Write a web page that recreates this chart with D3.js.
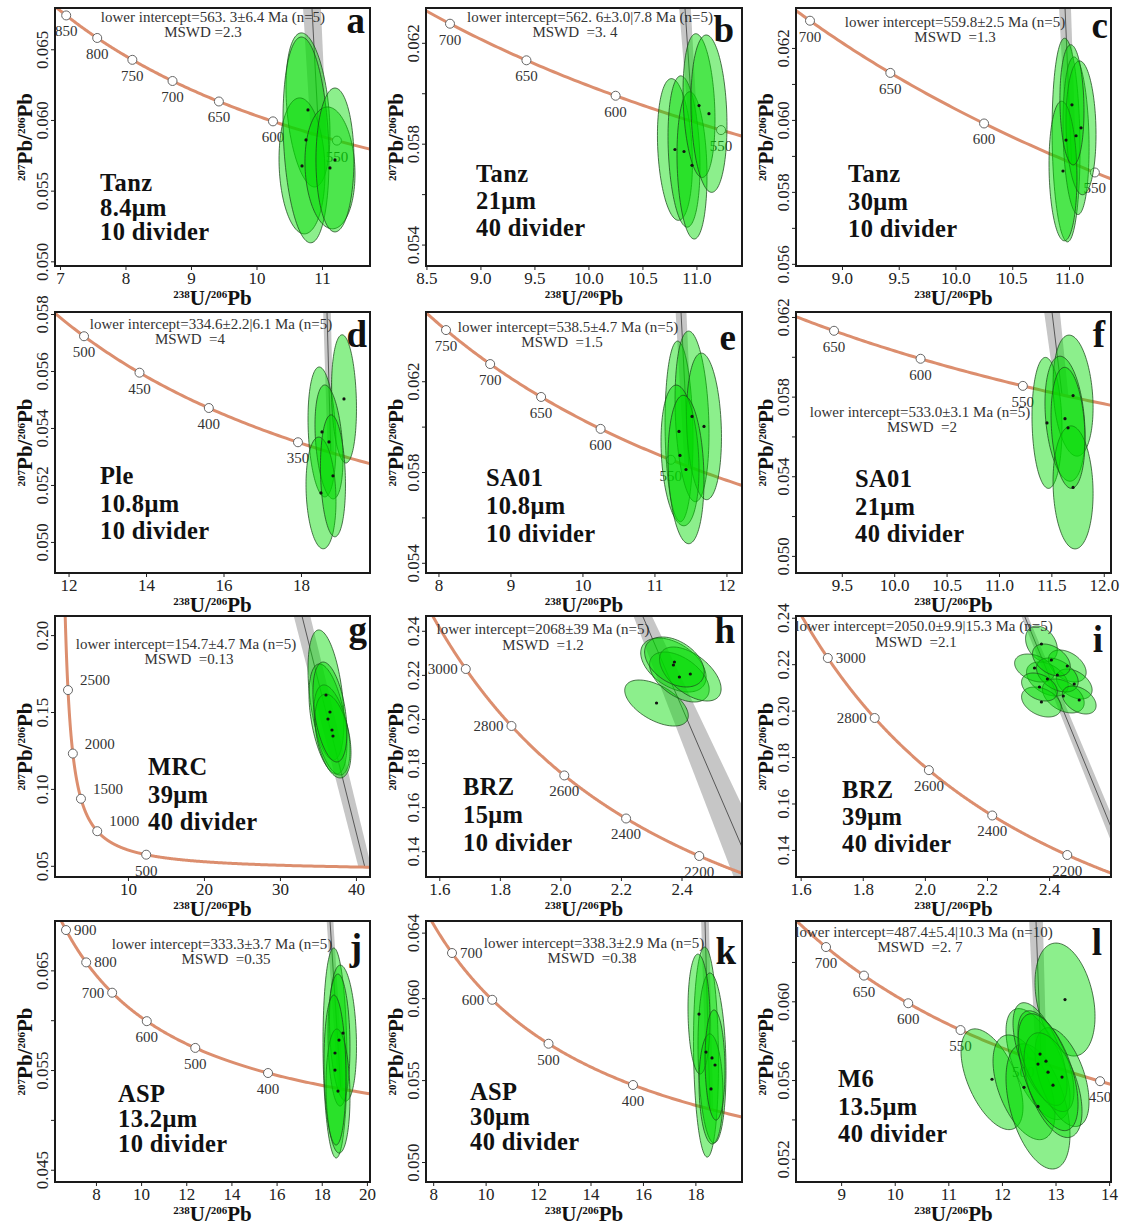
<!DOCTYPE html>
<html>
<head>
<meta charset="utf-8">
<script src="https://cdn.jsdelivr.net/npm/d3@7"></script>
<style>
  body { margin: 0; background: #fff; }
  svg text { font-family: "Liberation Serif", "Times New Roman", serif; }
</style>
</head>
<body>
<svg id="chart" width="1126" height="1228"></svg>
<script>
// ---- data ----
const panelIds = ['a', 'b', 'c', 'd', 'e', 'f', 'g', 'h', 'i', 'j', 'k', 'l'];
const sampleNames = ['Tanz', 'Tanz', 'Tanz', 'Ple', 'SA01', 'SA01', 'MRC', 'BRZ', 'BRZ', 'ASP', 'ASP', 'M6'];
const spotSizes = ['8.4μm', '21μm', '30μm', '10.8μm', '10.8μm', '21μm', '39μm', '15μm', '39μm', '13.2μm', '30μm', '13.5μm'];
const dividers = ['10 divider', '40 divider', '10 divider', '10 divider', '10 divider', '40 divider',
  '40 divider', '10 divider', '40 divider', '10 divider', '40 divider', '40 divider'];
const interceptTexts = [
  'lower intercept=563. 3±6.4 Ma (n=5)', 'lower intercept=562. 6±3.0|7.8 Ma (n=5)',
  'lower intercept=559.8±2.5 Ma (n=5)', 'lower intercept=334.6±2.2|6.1 Ma (n=5)',
  'lower intercept=538.5±4.7 Ma (n=5)', 'lower intercept=533.0±3.1 Ma (n=5)',
  'lower intercept=154.7±4.7 Ma (n=5)', 'lower intercept=2068±39 Ma (n=5)',
  'lower intercept=2050.0±9.9|15.3 Ma (n=5)', 'lower intercept=333.3±3.7 Ma (n=5)',
  'lower intercept=338.3±2.9 Ma (n=5)', 'lower intercept=487.4±5.4|10.3 Ma (n=10)'];
const mswdTexts = ['MSWD =2.3', 'MSWD  =3. 4', 'MSWD  =1.3', 'MSWD  =4', 'MSWD  =1.5', 'MSWD  =2',
  'MSWD  =0.13', 'MSWD  =1.2', 'MSWD  =2.1', 'MSWD  =0.35', 'MSWD  =0.38', 'MSWD  =2. 7'];

const xDomains = [[6.924, 11.733], [8.496, 11.422], [8.595, 11.370], [11.650, 19.782], [7.827, 12.216], [9.063, 12.069],
  [0.4, 41.85], [1.5561, 2.5998], [1.5850, 2.5994], [6.187, 20.137], [7.726, 19.778], [8.158, 14.035]];
const yDomains = [[0.04967, 0.06792], [0.05315, 0.06338], [0.05594, 0.06311], [0.04891, 0.05807], [0.05355, 0.06505], [0.04914, 0.06225],
  [0.04272, 0.21242], [0.12829, 0.24671], [0.12834, 0.24075], [0.04377, 0.06995], [0.04878, 0.06471], [0.05082, 0.06408]];

const xTicks = [[7, 8, 9, 10, 11], [8.5, 9, 9.5, 10, 10.5, 11], [9, 9.5, 10, 10.5, 11], [12, 14, 16, 18], [8, 9, 10, 11, 12],
  [9.5, 10, 10.5, 11, 11.5, 12], [10, 20, 30, 40], [1.6, 1.8, 2.0, 2.2, 2.4], [1.6, 1.8, 2.0, 2.2, 2.4],
  [8, 10, 12, 14, 16, 18, 20], [8, 10, 12, 14, 16, 18], [9, 10, 11, 12, 13, 14]];
const xFormats = ['d', '.1f', '.1f', 'd', 'd', '.1f', 'd', '.1f', '.1f', 'd', 'd', 'd'];
const yTicks = [[0.050, 0.055, 0.060, 0.065], [0.054, 0.058, 0.062], [0.056, 0.058, 0.060, 0.062],
  [0.050, 0.052, 0.054, 0.056, 0.058], [0.054, 0.058, 0.062], [0.050, 0.054, 0.058, 0.062],
  [0.05, 0.10, 0.15, 0.20], [0.14, 0.16, 0.18, 0.20, 0.22, 0.24], [0.14, 0.16, 0.18, 0.20, 0.22, 0.24],
  [0.045, 0.055, 0.065], [0.050, 0.055, 0.060, 0.064], [0.052, 0.056, 0.060]];
const yMinorTicks = [[], [0.056, 0.060], [0.057, 0.059, 0.061], [], [0.056, 0.060], [0.052, 0.056, 0.060],
  [], [], [], [0.050, 0.060], [], [0.054, 0.058, 0.062]];
const yFormats = ['.3f', '.3f', '.3f', '.3f', '.3f', '.3f', '.2f', '.2f', '.2f', '.3f', '.3f', '.3f'];

// concordia age marks (Ma) and where their label sits: b below, r right, l left, ra right-above
const markerAges = [[850, 800, 750, 700, 650, 600, 550], [700, 650, 600, 550], [700, 650, 600, 550], [500, 450, 400, 350],
  [750, 700, 650, 600, 550], [650, 600, 550], [2500, 2000, 1500, 1000, 500], [3000, 2800, 2600, 2400, 2200],
  [3000, 2800, 2600, 2400, 2200], [900, 800, 700, 600, 500, 400], [700, 600, 500, 400], [700, 650, 600, 550, 500, 450]];
const markerSides = [[], [], [], [], [], [], ['ra', 'ra', 'ra', 'ra', 'b'], ['l', 'l', 'b', 'b', 'b'],
  ['r', 'l', 'b', 'b', 'b'], ['r', 'r', 'l', 'b', 'b', 'b'], ['r', 'l', 'b', 'b'], []];

// discordia: lower intercept age (Ma), x where it leaves the top, band half-width (x units) at top / at intercept
const lowerIntercepts = [563.3, 562.6, 559.8, 334.6, 538.5, 533.0, 154.7, 2068, 2050.0, 333.3, 338.3, 487.4];
const discordiaTopX = [10.847, 10.894, 10.965, 18.672, 11.369, 11.506, 32.9, 2.2716, 2.321, 18.366, 18.367, 12.636];
const bandHalfWidth = [[0.137, 0.12], [0.055, 0.04], [0.053, 0.04], [0.1, 0.08], [0.076, 0.06], [0.076, 0.06],
  [1.1, 0.85], [0.028, 0.07], [0.01, 0.02], [0.15, 0.12], [0.15, 0.12], [0.13, 0.1]];

// error ellipses: [x, y, x half-range, y half-range, rho]
const ellipses = [
  [[10.786, 0.06071, 0.336, 0.00545, -0.3], [10.695, 0.05675, 0.351, 0.00481, -0.1], [10.756, 0.05859, 0.351, 0.00728, -0.2],
   [11.122, 0.05661, 0.382, 0.00431, -0.1], [11.198, 0.05717, 0.290, 0.00509, 0]],
  [[10.801, 0.05777, 0.162, 0.00281, -0.2], [10.885, 0.05769, 0.148, 0.00300, -0.2], [10.959, 0.05714, 0.139, 0.00292, -0.15],
   [11.024, 0.05951, 0.148, 0.00285, -0.2], [11.116, 0.05919, 0.167, 0.00312, -0.15]],
  [[10.974, 0.05944, 0.123, 0.00283, -0.1], [11.062, 0.05956, 0.115, 0.00219, -0.15], [11.106, 0.05978, 0.132, 0.00186, -0.1],
   [10.947, 0.05858, 0.123, 0.00194, -0.1], [11.026, 0.06042, 0.106, 0.00167, -0.1]],
  [[18.543, 0.05386, 0.361, 0.00228, -0.2], [19.110, 0.05502, 0.323, 0.00225, -0.15], [18.723, 0.05351, 0.361, 0.00200, -0.3],
   [18.517, 0.05172, 0.387, 0.00196, -0.15], [18.826, 0.05232, 0.323, 0.00214, -0.15]],
  [[11.341, 0.05979, 0.194, 0.00398, -0.1], [11.522, 0.06045, 0.236, 0.00376, -0.2], [11.688, 0.06001, 0.243, 0.00323, -0.15],
   [11.355, 0.05873, 0.264, 0.00310, -0.2], [11.438, 0.05811, 0.25, 0.00327, -0.15]],
  [[11.458, 0.05668, 0.143, 0.00329, -0.1], [11.707, 0.05805, 0.191, 0.00304, -0.2], [11.630, 0.05689, 0.191, 0.00314, -0.25],
   [11.707, 0.05344, 0.191, 0.00309, -0.1], [11.659, 0.05643, 0.162, 0.00304, -0.2]],
  [[36.06, 0.16105, 2.37, 0.0423, -0.4], [36.32, 0.14545, 2.50, 0.0358, -0.45], [36.85, 0.13830, 2.37, 0.0293, -0.45],
   [36.98, 0.13440, 2.37, 0.0273, -0.4], [36.58, 0.15, 2.24, 0.0325, -0.4]],
  [[2.3175, 0.20723, 0.105, 0.01044, -0.55], [2.3733, 0.22447, 0.108, 0.01225, -0.45], [2.3930, 0.21903, 0.0985, 0.01134, -0.5],
   [2.4291, 0.22039, 0.1017, 0.01225, -0.55], [2.3766, 0.22584, 0.0985, 0.01134, -0.4]],
  [[2.3754, 0.22869, 0.0512, 0.00775, -0.3], [2.4586, 0.21921, 0.0608, 0.00689, -0.4], [2.3946, 0.21362, 0.0672, 0.00732, -0.4],
   [2.4810, 0.21146, 0.0576, 0.00646, -0.4], [2.4458, 0.20630, 0.0672, 0.00732, -0.4], [2.3754, 0.20371, 0.064, 0.00646, -0.35],
   [2.3530, 0.21835, 0.064, 0.00603, -0.35], [2.4266, 0.21534, 0.0672, 0.00732, -0.4], [2.4970, 0.20457, 0.0544, 0.00603, -0.4],
   [2.4074, 0.22180, 0.0608, 0.00689, -0.4], [2.3690, 0.21017, 0.0576, 0.00603, -0.35]],
  [[18.587, 0.05671, 0.531, 0.01053, -0.1], [18.941, 0.05871, 0.598, 0.00682, -0.2], [18.764, 0.05801, 0.487, 0.00662, -0.1],
   [18.720, 0.05289, 0.531, 0.00622, -0.1], [18.587, 0.05500, 0.487, 0.00752, -0.1]],
  [[18.405, 0.05671, 0.477, 0.00641, -0.1], [18.634, 0.05635, 0.534, 0.00519, -0.15], [18.138, 0.05903, 0.420, 0.00366, -0.1],
   [18.596, 0.05446, 0.458, 0.00336, -0.1], [18.749, 0.05592, 0.381, 0.00336, -0.1]],
  [[13.177, 0.06009, 0.560, 0.00287, -0.3], [11.815, 0.05604, 0.578, 0.00256, -0.55], [12.673, 0.05681, 0.597, 0.00282, -0.6],
   [12.412, 0.05563, 0.578, 0.00266, -0.5], [12.673, 0.05466, 0.597, 0.00318, -0.45], [13.121, 0.05615, 0.504, 0.00251, -0.5],
   [12.711, 0.05732, 0.504, 0.00261, -0.6], [12.822, 0.05696, 0.522, 0.00256, -0.6], [12.953, 0.05574, 0.541, 0.00266, -0.5],
   [12.860, 0.05640, 0.560, 0.00297, -0.55]]
];

// ---- layout ----
const cols = [[55, 370], [426, 742], [796, 1111]];
const rows = [[8, 266], [312, 573], [616, 877], [921, 1182]];
// intercept text: centre x / baseline of the two lines
const interceptPos = [[213, 22, 203, 37], [590, 22, 575, 37], [955, 27, 955, 42], [211, 329, 190, 344],
  [568, 332, 562, 347], [920, 417, 922, 432], [186, 649, 189, 664], [543, 634, 543, 650],
  [924, 631, 916, 647], [222, 949, 226, 964], [594, 948, 592, 963], [924, 937, 920, 952]];
// sample block: left x, first baseline, line gap
const samplePos = [[100, 191, 24.5], [476, 182, 27], [848, 182, 27.5], [100, 484, 27.5], [486, 486, 28], [855, 487, 27.5],
  [148, 775, 27.5], [463, 795, 28], [842, 798, 27], [118, 1102, 25], [470, 1100, 25], [838, 1087, 27.5]];
// panel letter: right x, baseline
const letterPos = [[365, 33], [734, 42], [1108, 38], [367, 347], [736, 350], [1105, 347],
  [367, 642], [735, 643], [1103, 652], [362, 960], [736, 964], [1102, 955]];

// Tera-Wasserburg concordia (decay constants per Ma)
const L238 = 1.55125e-4, L235 = 9.8485e-4, U85 = 137.88;
function tw(t) {
  const e8 = Math.exp(L238 * t) - 1, e5 = Math.exp(L235 * t) - 1;
  return [1 / e8, e5 / e8 / U85];
}
const curveAges = d3.range(100, 4600, 2);

const svg = d3.select('#chart');

panelIds.forEach((id, i) => {
  const [x0, x1] = cols[i % 3];
  const [y0, y1] = rows[Math.floor(i / 3)];
  const x = d3.scaleLinear().domain(xDomains[i]).range([x0, x1]);
  const y = d3.scaleLinear().domain(yDomains[i]).range([y1, y0]);
  const line = d3.line().x(d => x(d[0])).y(d => y(d[1]));
  const closed = d3.line().x(d => x(d[0])).y(d => y(d[1])).curve(d3.curveLinearClosed);

  const g = svg.append('g').attr('class', 'panel-' + id);
  g.append('clipPath').attr('id', 'clip-' + id)
    .append('rect').attr('x', x0).attr('y', y0).attr('width', x1 - x0).attr('height', y1 - y0);
  const plot = g.append('g').attr('clip-path', `url(#clip-${id})`);

  // discordia band + line
  const li = tw(lowerIntercepts[i]);
  const topPt = [discordiaTopX[i], yDomains[i][1]];
  const ext = [topPt[0] + (topPt[0] - li[0]) * 0.06, topPt[1] + (topPt[1] - li[1]) * 0.06];
  const [wt, wb] = bandHalfWidth[i];
  plot.append('path')
    .attr('d', closed([[ext[0] - wt, ext[1]], [ext[0] + wt, ext[1]], [li[0] + wb, li[1]], [li[0] - wb, li[1]]]))
    .attr('fill', '#c6c6c6');
  plot.append('path').attr('d', line([ext, li]))
    .attr('fill', 'none').attr('stroke', '#3a3a3a').attr('stroke-width', 0.8);

  // concordia
  plot.append('path').attr('d', line(curveAges.map(tw)))
    .attr('fill', 'none').attr('stroke', '#dc8e6e').attr('stroke-width', 3);

  const sides = markerSides[i];
  markerAges[i].forEach((age, k) => {
    const p = tw(age);
    const mx = x(p[0]), my = y(p[1]);
    plot.append('circle').attr('cx', mx).attr('cy', my).attr('r', 4.5)
      .attr('fill', '#fff').attr('stroke', '#666').attr('stroke-width', 1);
    const side = sides[k] || 'b';
    const t = plot.append('text').text(age).attr('font-size', 15).attr('fill', '#333');
    if (side === 'b') t.attr('x', mx).attr('y', my + 21).attr('text-anchor', 'middle');
    else if (side === 'r') t.attr('x', mx + 8).attr('y', my + 5).attr('text-anchor', 'start');
    else if (side === 'l') t.attr('x', mx - 8).attr('y', my + 5).attr('text-anchor', 'end');
    else t.attr('x', mx + 12).attr('y', my - 5).attr('text-anchor', 'start');
  });

  // error ellipses
  const angles = d3.range(0, 2 * Math.PI, Math.PI / 60);
  ellipses[i].forEach(([cx, cy, ax, ay, rho]) => {
    const s = Math.sqrt(1 - rho * rho);
    const pts = angles.map(a => [cx + ax * Math.cos(a), cy + ay * (rho * Math.cos(a) + s * Math.sin(a))]);
    plot.append('path').attr('d', closed(pts))
      .attr('fill', '#00dc00').attr('fill-opacity', 0.45)
      .attr('stroke', '#1d4a1d').attr('stroke-opacity', 0.85).attr('stroke-width', 0.9);
  });
  ellipses[i].forEach(([cx, cy]) => {
    plot.append('circle').attr('cx', x(cx)).attr('cy', y(cy)).attr('r', 1.6).attr('fill', '#111');
  });

  // axes
  const xa = g.append('g').attr('transform', `translate(0,${y1})`)
    .call(d3.axisBottom(x).tickValues(xTicks[i]).tickFormat(d3.format(xFormats[i])).tickSize(4).tickPadding(2));
  xa.select('.domain').remove();
  xa.attr('font-size', 17).attr('font-family', '"Liberation Serif", serif').attr('color', '#222');
  xa.selectAll('text').attr('dy', '0.7em');

  const yLab = yTicks[i], yfmt = d3.format(yFormats[i]);
  const ya = g.append('g').attr('transform', `translate(${x0},0)`)
    .call(d3.axisLeft(y).tickValues(yLab.concat(yMinorTicks[i]))
      .tickFormat(d => yLab.includes(d) ? yfmt(d) : '').tickSize(4));
  ya.select('.domain').remove();
  ya.attr('font-size', 17).attr('font-family', '"Liberation Serif", serif').attr('color', '#222');
  ya.selectAll('text').attr('transform', 'rotate(-90)').attr('x', 0).attr('y', -7)
    .attr('dy', null).attr('text-anchor', 'middle');

  // frame
  g.append('rect').attr('x', x0).attr('y', y0).attr('width', x1 - x0).attr('height', y1 - y0)
    .attr('fill', 'none').attr('stroke', '#1a1a1a').attr('stroke-width', 2);

  // axis titles
  const xt = g.append('text').attr('x', (x0 + x1) / 2).attr('y', y1 + 39)
    .attr('text-anchor', 'middle').attr('font-weight', 'bold').attr('fill', '#111');
  xt.append('tspan').attr('font-size', 11).attr('dy', -7).text('238');
  xt.append('tspan').attr('font-size', 21).attr('dy', 7).text('U/');
  xt.append('tspan').attr('font-size', 11).attr('dy', -7).text('206');
  xt.append('tspan').attr('font-size', 21).attr('dy', 7).text('Pb');

  const yt = g.append('text').attr('transform', `translate(${x0 - 23},${(y0 + y1) / 2}) rotate(-90)`)
    .attr('text-anchor', 'middle').attr('font-weight', 'bold').attr('fill', '#111');
  yt.append('tspan').attr('font-size', 11).attr('dy', -7).text('207');
  yt.append('tspan').attr('font-size', 21).attr('dy', 7).text('Pb/');
  yt.append('tspan').attr('font-size', 11).attr('dy', -7).text('206');
  yt.append('tspan').attr('font-size', 21).attr('dy', 7).text('Pb');

  // intercept annotation
  const [ix1, iy1, ix2, iy2] = interceptPos[i];
  g.append('text').attr('x', ix1).attr('y', iy1).attr('text-anchor', 'middle')
    .attr('font-size', 15).attr('fill', '#333').style('white-space', 'pre').text(interceptTexts[i]);
  g.append('text').attr('x', ix2).attr('y', iy2).attr('text-anchor', 'middle')
    .attr('font-size', 15).attr('fill', '#333').style('white-space', 'pre').text(mswdTexts[i]);

  // sample block
  const [sx, sy, gap] = samplePos[i];
  [sampleNames[i], spotSizes[i], dividers[i]].forEach((s, k) => {
    g.append('text').attr('x', sx).attr('y', sy + k * gap)
      .attr('font-size', 24.5).attr('font-weight', 'bold').attr('fill', '#111')
      .attr('letter-spacing', 0.4).style('white-space', 'pre').text(s);
  });

  // panel letter
  g.append('text').attr('x', letterPos[i][0]).attr('y', letterPos[i][1])
    .attr('text-anchor', 'end').attr('font-size', 37).attr('font-weight', 'bold').attr('fill', '#111').text(id);
});
</script>
</body>
</html>
